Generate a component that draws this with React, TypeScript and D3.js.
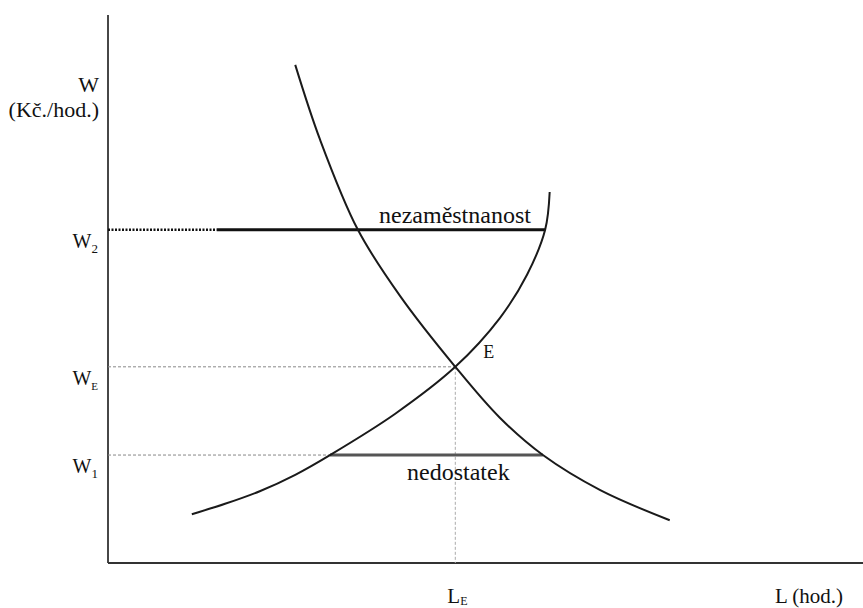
import React, { useEffect, useRef } from "react";
import * as d3 from "d3";

// demand curve (L in hours, W in Kč/hod)
const demandL = [24.8, 28.1, 33.1, 38.7, 46.0, 51.9, 57.6, 65.2, 74.4];
const demandW = [90.9, 77.2, 60.8, 48.7, 35.8, 26.5, 19.7, 13.3, 7.8];

// supply curve
const supplyL = [11.1, 15.5, 20.1, 24.8, 29.4, 38.0, 46.0, 51.9, 55.5, 57.9, 58.5];
const supplyW = [8.9, 10.8, 13.1, 16.1, 19.7, 27.2, 35.8, 44.7, 52.6, 60.8, 67.7];

// wage levels and the equilibrium quantity
const wageLevels = ["W2", "WE", "W1"];
const wageValues = [60.8, 35.8, 19.7];
const equilibriumL = 46.0;

// where the gap segments start / end
const surplusFrom = 14.4; // dotted part of W2 ends here
const surplusTo = 57.9;
const shortageFrom = 29.4;
const shortageTo = 57.6;

const W = 863;
const H = 608;
const FONT = '"Liberation Serif", "Times New Roman", Times, "DejaVu Serif", serif';

export default function App() {
  const ref = useRef<SVGSVGElement | null>(null);

  useEffect(() => {
    document.body.style.margin = "0";
    const svg = d3.select(ref.current);
    svg.selectAll("*").remove();

    const x = d3.scaleLinear().domain([0, 100]).range([108, 863]);
    const y = d3.scaleLinear().domain([0, 100]).range([563, 15]);

    const line = d3
      .line<[number, number]>()
      .x((d) => x(d[0]))
      .y((d) => y(d[1]))
      .curve(d3.curveCatmullRom.alpha(0.5));

    // axes
    svg
      .append("line")
      .attr("x1", x(0))
      .attr("x2", x(0))
      .attr("y1", y(100))
      .attr("y2", y(0))
      .attr("stroke", "#333")
      .attr("stroke-width", 1.8);
    svg
      .append("line")
      .attr("x1", x(0))
      .attr("x2", x(100))
      .attr("y1", y(0))
      .attr("y2", y(0))
      .attr("stroke", "#333")
      .attr("stroke-width", 2);

    // guide lines to WE and W1, and down to LE
    const [w2, wE, w1] = wageValues;
    svg
      .append("line")
      .attr("x1", x(0))
      .attr("x2", x(equilibriumL))
      .attr("y1", y(wE))
      .attr("y2", y(wE))
      .attr("stroke", "#888")
      .attr("stroke-width", 1)
      .attr("stroke-dasharray", "3,2");
    svg
      .append("line")
      .attr("x1", x(0))
      .attr("x2", x(shortageFrom))
      .attr("y1", y(w1))
      .attr("y2", y(w1))
      .attr("stroke", "#888")
      .attr("stroke-width", 1)
      .attr("stroke-dasharray", "3,2");
    svg
      .append("line")
      .attr("x1", x(equilibriumL))
      .attr("x2", x(equilibriumL))
      .attr("y1", y(wE))
      .attr("y2", y(0))
      .attr("stroke", "#aaa")
      .attr("stroke-width", 1)
      .attr("stroke-dasharray", "3,2");

    // W2 : dotted then solid (unemployment)
    svg
      .append("line")
      .attr("x1", x(0))
      .attr("x2", x(surplusFrom))
      .attr("y1", y(w2))
      .attr("y2", y(w2))
      .attr("stroke", "#111")
      .attr("stroke-width", 2.5)
      .attr("stroke-dasharray", "2,1.5");
    svg
      .append("line")
      .attr("x1", x(surplusFrom))
      .attr("x2", x(surplusTo))
      .attr("y1", y(w2))
      .attr("y2", y(w2))
      .attr("stroke", "#111")
      .attr("stroke-width", 3);

    // W1 shortage segment
    svg
      .append("line")
      .attr("x1", x(shortageFrom))
      .attr("x2", x(shortageTo))
      .attr("y1", y(w1))
      .attr("y2", y(w1))
      .attr("stroke", "#555")
      .attr("stroke-width", 3);

    // curves
    const demand = demandL.map((d, i) => [d, demandW[i]] as [number, number]);
    const supply = supplyL.map((d, i) => [d, supplyW[i]] as [number, number]);
    [demand, supply].forEach((pts) => {
      svg
        .append("path")
        .attr("d", line(pts))
        .attr("fill", "none")
        .attr("stroke", "#1a1a1a")
        .attr("stroke-width", 2);
    });

    const text = svg
      .append("g")
      .style("font-family", FONT)
      .attr("fill", "#111");

    // y axis title
    text
      .append("text")
      .attr("x", 99)
      .attr("y", 92)
      .attr("text-anchor", "end")
      .attr("font-size", 22)
      .text("W");
    text
      .append("text")
      .attr("x", 99)
      .attr("y", 117)
      .attr("text-anchor", "end")
      .attr("font-size", 22)
      .text("(Kč./hod.)");

    // wage level labels with subscripts
    wageLevels.forEach((lab, i) => {
      const t = text
        .append("text")
        .attr("x", 98)
        .attr("y", y(wageValues[i]) + 18)
        .attr("text-anchor", "end")
        .attr("font-size", 20);
      t.append("tspan").text(lab[0]);
      t.append("tspan")
        .attr("dy", 5)
        .attr("font-size", lab[1] === "E" ? 11 : 13)
        .text(lab.slice(1));
    });

    // x axis labels
    const le = text
      .append("text")
      .attr("x", x(equilibriumL) - 8)
      .attr("y", 603)
      .attr("font-size", 21);
    le.append("tspan").text("L");
    le.append("tspan").attr("dy", 2).attr("font-size", 12).text("E");

    text
      .append("text")
      .attr("x", 775)
      .attr("y", 603)
      .attr("font-size", 21)
      .text("L (hod.)");

    text
      .append("text")
      .attr("x", x(equilibriumL) + 28)
      .attr("y", y(wE) - 9)
      .attr("font-size", 18)
      .text("E");

    text
      .append("text")
      .attr("x", 379)
      .attr("y", y(w2) - 7)
      .attr("font-size", 24)
      .text("nezaměstnanost");

    text
      .append("text")
      .attr("x", 407)
      .attr("y", y(w1) + 25)
      .attr("font-size", 24)
      .text("nedostatek");
  }, []);

  return (
    <svg
      ref={ref}
      width={W}
      height={H}
      style={{ display: "block", background: "#fff" }}
    />
  );
}
